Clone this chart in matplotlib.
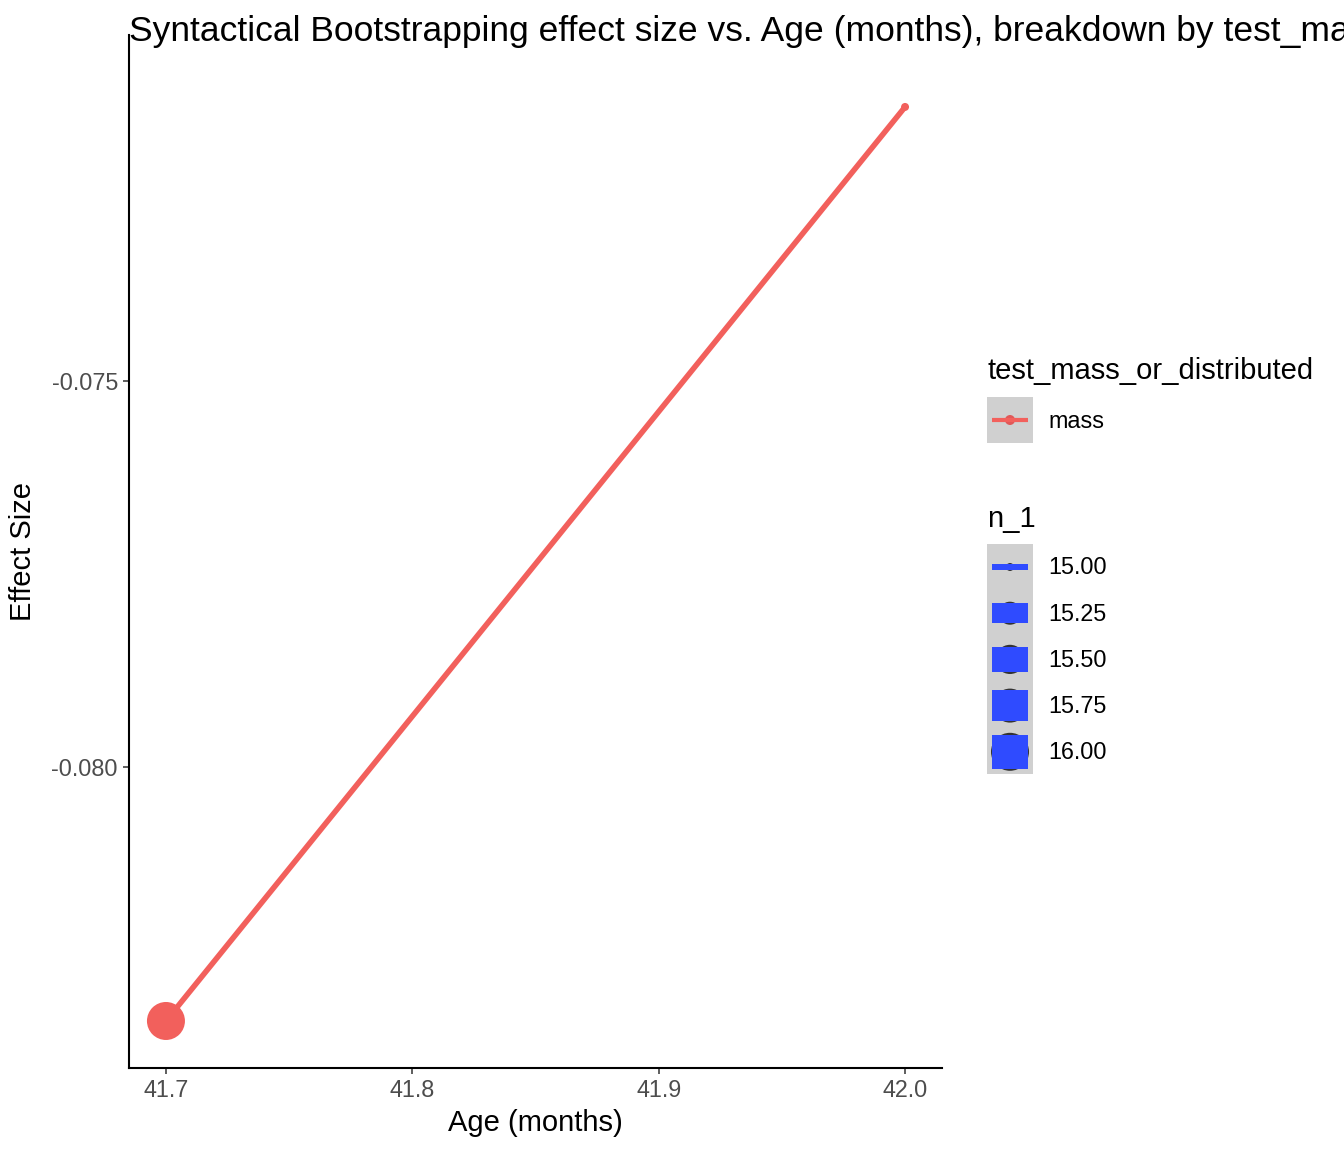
import matplotlib
matplotlib.use("Agg")
import matplotlib.pyplot as plt
from matplotlib.patches import Rectangle, Circle
import numpy as np

plt.rcParams['font.family'] = ['Liberation Sans', 'DejaVu Sans']

# ---- data ----
age = [41.7, 42.0]
effect = [-0.08329, -0.07145]
n_1 = [16, 15]
group = "mass"
x_ticks = [41.7, 41.8, 41.9, 42.0]
y_ticks = [-0.080, -0.075]
y_limits = (-0.083899, -0.070518)
size_levels = [15.00, 15.25, 15.50, 15.75, 16.00]

RED = "#F2605C"
BLUE = "#2F4BFF"
BASE = 21

W, H = 1344, 1152
fig = plt.figure(figsize=(W / 100, H / 100), dpi=100)
ax = fig.add_axes([129 / W, 1 - 1068 / H, (942 - 129) / W, (1068 - 35) / H])

nmin, nmax = min(n_1), max(n_1)

def size_val(n):
    t = (n - nmin) / (nmax - nmin)
    return 1 + 5 * np.sqrt(t)

def diam_px(n, dmax=38.0):
    return dmax * (size_val(n) * 2.845 + 0.945) / (6 * 2.845 + 0.945)

def line_px(n, wmax=34.0):
    return wmax * size_val(n) / 6

ax.plot(age, effect, color=RED, lw=4.0, solid_capstyle='butt', zorder=2)
ax.scatter(age, effect, s=[(diam_px(n) * 0.72) ** 2 for n in n_1], color=RED,
           edgecolors='none', zorder=3)

ax.set_xticks(x_ticks)
ax.set_xticklabels([f"{t:.1f}" for t in x_ticks])
ax.set_yticks(y_ticks)
ax.set_yticklabels([f"{t:.3f}" for t in y_ticks])
ax.margins(x=0.05)
ax.set_ylim(*y_limits)
for s in ['top', 'right']:
    ax.spines[s].set_visible(False)
for s in ['left', 'bottom']:
    ax.spines[s].set_linewidth(1.5)
    ax.spines[s].set_color('black')
ax.tick_params(axis='both', length=4, width=1.1, color='#333333',
               labelsize=BASE * 0.8, labelcolor='#4D4D4D', pad=4)
ax.set_xlabel("Age (months)", fontsize=BASE, labelpad=5)
ax.set_ylabel("Effect Size", fontsize=BASE, labelpad=10)

fig.text(129 / W, 1 - 41 / H,
         "Syntactical Bootstrapping effect size vs. Age (months), breakdown by test_mass_or_distributed",
         fontsize=25.5, ha='left', va='baseline')

# ---- legend (pixel overlay) ----
lg = fig.add_axes([0, 0, 1, 1], zorder=5)
lg.set_xlim(0, W)
lg.set_ylim(H, 0)
lg.axis('off')
lg.patch.set_alpha(0)

lg.text(987, 371, "test_mass_or_distributed", fontsize=BASE, ha='left', va='center')
lg.add_patch(Rectangle((987, 397), 46, 46, color='#D0D0D0', lw=0))
lg.plot([992, 1028], [420, 420], color=RED, lw=3.0, solid_capstyle='butt')
lg.add_patch(Circle((1010, 420), 5, color='#E05858', lw=0))
lg.text(1048, 421, group, fontsize=BASE * 0.8, ha='left', va='center')

lg.text(987, 519, "n_1", fontsize=BASE, ha='left', va='center')
lg.add_patch(Rectangle((987, 544), 46, 46 * len(size_levels), color='#D0D0D0', lw=0))
for i, lev in enumerate(size_levels):
    cy = 567 + i * 46.2
    d = diam_px(lev)
    rh = line_px(lev)
    lg.add_patch(Circle((1010, cy), d / 2, color='#333333', lw=0))
    lg.add_patch(Rectangle((992, cy - rh / 2), 36, rh, color=BLUE, lw=0))
    lg.text(1048, cy + 1, f"{lev:.2f}", fontsize=BASE * 0.8, ha='left', va='center')

fig.savefig("out.png", dpi=100)
